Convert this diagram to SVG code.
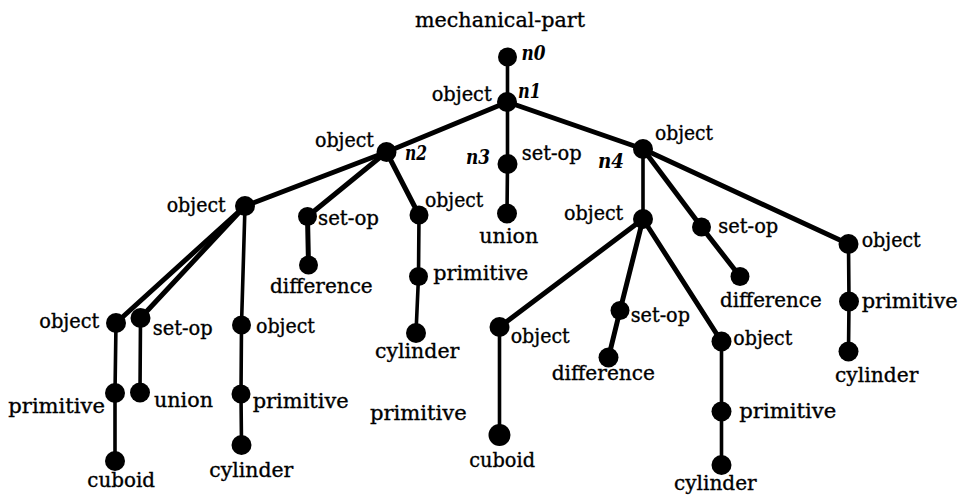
<svg xmlns="http://www.w3.org/2000/svg" width="967" height="495" viewBox="0 0 967 495">
<style>
.bg{fill:#fff}
.e{stroke:#000;stroke-width:5;stroke-linecap:round;fill:none}
.v{stroke:#000;stroke-width:3.6;stroke-linecap:round;fill:none}
.n circle{fill:#000}
text{font-family:"DejaVu Serif","Liberation Serif",serif;font-size:20px;fill:#000;stroke:#000;stroke-width:0.35}
.id{font-style:italic;font-weight:bold;stroke-width:0}
</style>
<rect class="bg" width="967" height="495"/>
<g id="connectors">
<line class="v" x1="507.5" y1="57" x2="507.5" y2="102"/>
<line class="e" x1="507.5" y1="102" x2="386.5" y2="152"/>
<line class="v" x1="507.5" y1="102" x2="507.5" y2="164"/>
<line class="e" x1="507.5" y1="102" x2="643" y2="149"/>
<line class="e" x1="386.5" y1="152" x2="245" y2="206"/>
<line class="e" x1="386.5" y1="152" x2="307.5" y2="216.5"/>
<line class="e" x1="386.5" y1="152" x2="419" y2="215"/>
<line class="v" x1="507.5" y1="164" x2="507" y2="213.5"/>
<line class="v" x1="643" y1="149" x2="643" y2="219"/>
<line class="e" x1="643" y1="149" x2="701.5" y2="227"/>
<line class="e" x1="643" y1="149" x2="848.5" y2="244"/>
<line class="e" x1="245" y1="206" x2="116" y2="323"/>
<line class="e" x1="245" y1="206" x2="140.5" y2="318"/>
<line class="v" x1="245" y1="206" x2="241.5" y2="325"/>
<line class="v" x1="116" y1="323" x2="115" y2="393"/>
<line class="v" x1="115" y1="393" x2="115" y2="461"/>
<line class="v" x1="140.5" y1="318" x2="140" y2="392.5"/>
<line class="v" x1="241.5" y1="325" x2="241" y2="394"/>
<line class="v" x1="241" y1="394" x2="241.5" y2="445"/>
<line class="e" x1="307.5" y1="216.5" x2="308.5" y2="265"/>
<line class="v" x1="419" y1="215" x2="418.5" y2="276.5"/>
<line class="v" x1="418.5" y1="276.5" x2="416" y2="333"/>
<line class="e" x1="643" y1="219" x2="499.5" y2="327"/>
<line class="e" x1="643" y1="219" x2="620" y2="310.5"/>
<line class="e" x1="643" y1="219" x2="721.5" y2="341.5"/>
<line class="v" x1="499.5" y1="327" x2="499.5" y2="435"/>
<line class="e" x1="620" y1="310.5" x2="608.5" y2="357.5"/>
<line class="v" x1="721.5" y1="341.5" x2="721.5" y2="411.5"/>
<line class="v" x1="721.5" y1="411.5" x2="721.5" y2="465"/>
<line class="e" x1="701.5" y1="227" x2="740" y2="276.5"/>
<line class="v" x1="848.5" y1="244" x2="849" y2="301.5"/>
<line class="v" x1="849" y1="301.5" x2="848.5" y2="351.5"/>
</g>
<g id="n0" class="n"><circle cx="507.5" cy="57" r="9.5"/><text x="415" y="27" textLength="170" lengthAdjust="spacingAndGlyphs">mechanical-part</text><text class="id" x="521.5" y="60" textLength="24" lengthAdjust="spacingAndGlyphs">n0</text></g>
<g id="n1" class="n"><circle cx="507" cy="102" r="10"/><text x="431.7" y="101" textLength="60" lengthAdjust="spacingAndGlyphs">object</text><text class="id" x="518" y="98" textLength="23" lengthAdjust="spacingAndGlyphs">n1</text></g>
<g id="n2" class="n"><circle cx="386.5" cy="152" r="10"/><text x="315" y="146.5" textLength="59" lengthAdjust="spacingAndGlyphs">object</text><text class="id" x="405" y="160" textLength="22" lengthAdjust="spacingAndGlyphs">n2</text></g>
<g id="n3" class="n"><circle cx="507.5" cy="164" r="10"/><text x="521.7" y="160" textLength="60" lengthAdjust="spacingAndGlyphs">set-op</text><text class="id" x="466" y="164" textLength="24" lengthAdjust="spacingAndGlyphs">n3</text></g>
<g id="n4" class="n"><circle cx="643" cy="149" r="10"/><text x="655" y="140" textLength="58" lengthAdjust="spacingAndGlyphs">object</text><text class="id" x="598" y="168" textLength="26" lengthAdjust="spacingAndGlyphs">n4</text></g>
<g id="n3-union" class="n"><circle cx="507" cy="213.5" r="10"/><text x="479.3" y="243.3" textLength="59" lengthAdjust="spacingAndGlyphs">union</text></g>
<g id="a" class="n"><circle cx="245" cy="206" r="10"/><text x="166.7" y="211.5" textLength="59" lengthAdjust="spacingAndGlyphs">object</text></g>
<g id="a1" class="n"><circle cx="116" cy="323" r="10"/><text x="39.3" y="328" textLength="60" lengthAdjust="spacingAndGlyphs">object</text></g>
<g id="a1p" class="n"><circle cx="115" cy="393" r="10"/><text x="8.3" y="413.3" textLength="96.7" lengthAdjust="spacingAndGlyphs">primitive</text></g>
<g id="a1c" class="n"><circle cx="115" cy="461" r="10"/><text x="87.3" y="486.7" textLength="67.7" lengthAdjust="spacingAndGlyphs">cuboid</text></g>
<g id="a2" class="n"><circle cx="140.5" cy="318" r="10"/><text x="152.7" y="335" textLength="60" lengthAdjust="spacingAndGlyphs">set-op</text></g>
<g id="a2u" class="n"><circle cx="140" cy="392.5" r="10"/><text x="154" y="406.7" textLength="59" lengthAdjust="spacingAndGlyphs">union</text></g>
<g id="a3" class="n"><circle cx="241.5" cy="325" r="9.5"/><text x="256" y="333" textLength="59" lengthAdjust="spacingAndGlyphs">object</text></g>
<g id="a3p" class="n"><circle cx="241" cy="394" r="9.5"/><text x="252.7" y="408.3" textLength="96" lengthAdjust="spacingAndGlyphs">primitive</text></g>
<g id="a3c" class="n"><circle cx="241.5" cy="445" r="10"/><text x="209.3" y="476.7" textLength="84" lengthAdjust="spacingAndGlyphs">cylinder</text></g>
<g id="b" class="n"><circle cx="307.5" cy="216.5" r="9.5"/><text x="318" y="225" textLength="61" lengthAdjust="spacingAndGlyphs">set-op</text></g>
<g id="bd" class="n"><circle cx="308.5" cy="265" r="9.5"/><text x="270" y="293" textLength="102.7" lengthAdjust="spacingAndGlyphs">difference</text></g>
<g id="c" class="n"><circle cx="419" cy="215" r="9.5"/><text x="425" y="206.7" textLength="58.3" lengthAdjust="spacingAndGlyphs">object</text></g>
<g id="cp" class="n"><circle cx="418.5" cy="276.5" r="9.5"/><text x="433.3" y="280" textLength="95" lengthAdjust="spacingAndGlyphs">primitive</text></g>
<g id="cc" class="n"><circle cx="416" cy="333" r="10"/><text x="375" y="358.3" textLength="84.3" lengthAdjust="spacingAndGlyphs">cylinder</text></g>
<g id="stray-label"><text x="370" y="420" textLength="96.7" lengthAdjust="spacingAndGlyphs">primitive</text></g>
<g id="d" class="n"><circle cx="643" cy="219" r="10"/><text x="564" y="220" textLength="59.3" lengthAdjust="spacingAndGlyphs">object</text></g>
<g id="d1" class="n"><circle cx="499.5" cy="327" r="10"/><text x="510.7" y="343.3" textLength="59" lengthAdjust="spacingAndGlyphs">object</text></g>
<g id="d1c" class="n"><circle cx="499.5" cy="435" r="11"/><text x="469.3" y="466.7" textLength="65.7" lengthAdjust="spacingAndGlyphs">cuboid</text></g>
<g id="d2" class="n"><circle cx="620" cy="310.5" r="9.5"/><text x="630.7" y="321.7" textLength="59.3" lengthAdjust="spacingAndGlyphs">set-op</text></g>
<g id="d2d" class="n"><circle cx="608.5" cy="357.5" r="10"/><text x="551.7" y="380" textLength="103.3" lengthAdjust="spacingAndGlyphs">difference</text></g>
<g id="d3" class="n"><circle cx="721.5" cy="341.5" r="10"/><text x="733.3" y="345" textLength="59" lengthAdjust="spacingAndGlyphs">object</text></g>
<g id="d3p" class="n"><circle cx="721.5" cy="411.5" r="10"/><text x="739.3" y="418.3" textLength="97" lengthAdjust="spacingAndGlyphs">primitive</text></g>
<g id="d3c" class="n"><circle cx="721.5" cy="465" r="10"/><text x="674" y="490" textLength="82.7" lengthAdjust="spacingAndGlyphs">cylinder</text></g>
<g id="e" class="n"><circle cx="701.5" cy="227" r="9.5"/><text x="718.3" y="233.3" textLength="60" lengthAdjust="spacingAndGlyphs">set-op</text></g>
<g id="ed" class="n"><circle cx="740" cy="276.5" r="9.5"/><text x="720" y="306.7" textLength="101.7" lengthAdjust="spacingAndGlyphs">difference</text></g>
<g id="f" class="n"><circle cx="848.5" cy="244" r="10"/><text x="861.7" y="246.7" textLength="59" lengthAdjust="spacingAndGlyphs">object</text></g>
<g id="fp" class="n"><circle cx="849" cy="301.5" r="10"/><text x="861.7" y="308" textLength="96" lengthAdjust="spacingAndGlyphs">primitive</text></g>
<g id="fc" class="n"><circle cx="848.5" cy="351.5" r="10"/><text x="835" y="381.7" textLength="83.3" lengthAdjust="spacingAndGlyphs">cylinder</text></g>
</svg>
